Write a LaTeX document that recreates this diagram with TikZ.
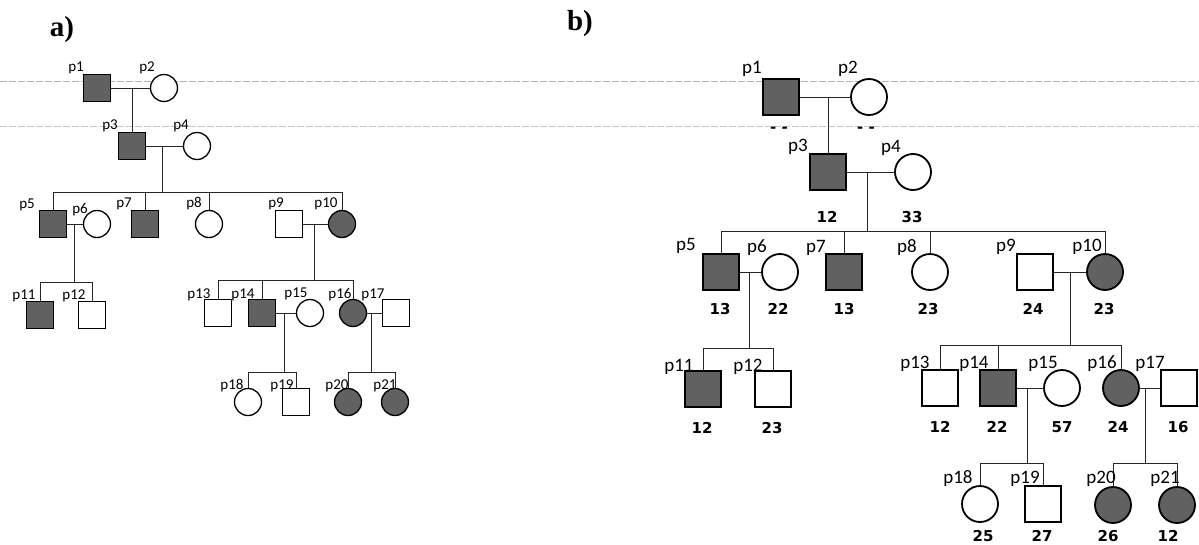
\documentclass[tikz,border=0pt]{standalone}
\usepackage{fontspec}
\newfontfamily\labfont{Carlito}
\newfontfamily\agefont{DejaVu Sans}
\newfontfamily\panelfont{Liberation Serif}
\begin{document}
\begin{tikzpicture}[x=1pt,y=-1pt,
  maleA/.style={rectangle,draw,line width=1.3pt,minimum size=27pt,inner sep=0pt,fill=white},
  femA/.style={circle,draw,line width=1.3pt,minimum size=27pt,inner sep=0pt,fill=white},
  maleB/.style={rectangle,draw,line width=1.8pt,minimum size=36pt,inner sep=0pt,fill=white},
  femB/.style={circle,draw,line width=1.8pt,minimum size=36pt,inner sep=0pt,fill=white},
  aff/.style={fill=black!62},
  labA/.style={font=\labfont\fontsize{15}{15}\selectfont,inner sep=0pt},
  labB/.style={font=\labfont\fontsize{19}{19}\selectfont,inner sep=0pt},
  age/.style={font=\agefont\bfseries\fontsize{15}{15}\selectfont,inner sep=0pt},
  panel/.style={font=\panelfont\bfseries\fontsize{29}{29}\selectfont,inner sep=0pt,anchor=base},
  link/.style={line width=0.8pt,black!85},
  scan/.style={black!30,line width=0.6pt,dash pattern=on 7pt off 2pt}
]
\useasboundingbox (0,0) rectangle (1199,544);
% faint scan lines
\coordinate (sl1) at (0,81); \coordinate (sr1) at (1199,81);
\coordinate (sl2) at (0,126); \coordinate (sr2) at (1199,126);
\draw[scan] (sl1) -- (sr1);
\draw[scan,black!22] (sl2) -- (sr2);

% panel titles
\node[panel] (ta) at (62,36) {a)};
\node[panel] (tb) at (580,30) {b)};

% ================= panel a =================
\node[maleA,aff] (a1) at (97,88) {};
\node[femA] (a2) at (164,88) {};
\node[maleA,aff] (a3) at (132,146) {};
\node[femA] (a4) at (197,146) {};
\node[maleA,aff] (a5) at (53,224) {};
\node[femA] (a6) at (97,224) {};
\node[maleA,aff] (a7) at (145,224) {};
\node[femA] (a8) at (209,224) {};
\node[maleA] (a9) at (289,224) {};
\node[femA,aff] (a10) at (342,224) {};
\node[maleA,aff] (a11) at (40,315) {};
\node[maleA] (a12) at (92,315) {};
\node[maleA] (a13) at (218,313) {};
\node[maleA,aff] (a14) at (262,313) {};
\node[femA] (a15) at (310,313) {};
\node[femA,aff] (a16) at (353,313) {};
\node[maleA] (a17) at (396,313) {};
\node[femA] (a18) at (248,402) {};
\node[maleA] (a19) at (296,402) {};
\node[femA,aff] (a20) at (348,402) {};
\node[femA,aff] (a21) at (395,402) {};

\coordinate (ca12) at (132,88);
\coordinate (ca34) at (162,146);
\coordinate (sa34) at (162,192);
\coordinate (ca56) at (74,224);
\coordinate (sa56) at (74,282);
\coordinate (ca910) at (314,224);
\coordinate (sa910) at (314,280);
\coordinate (ca1415) at (284,313);
\coordinate (sa1415) at (284,372);
\coordinate (ca1617) at (371,313);
\coordinate (sa1617) at (371,372);

\draw[link] (a1) -- (a2);
\draw[link] (ca12) -- (a3);
\draw[link] (a3) -- (a4);
\draw[link] (ca34) -- (sa34);
\foreach \c in {a5,a7,a8,a10} \draw[link] (sa34) -| (\c);
\draw[link] (a5) -- (a6);
\draw[link] (ca56) -- (sa56);
\foreach \c in {a11,a12} \draw[link] (sa56) -| (\c);
\draw[link] (a9) -- (a10);
\draw[link] (ca910) -- (sa910);
\foreach \c in {a13,a14,a16} \draw[link] (sa910) -| (\c);
\draw[link] (a14) -- (a15);
\draw[link] (ca1415) -- (sa1415);
\foreach \c in {a18,a19} \draw[link] (sa1415) -| (\c);
\draw[link] (a16) -- (a17);
\draw[link] (ca1617) -- (sa1617);
\foreach \c in {a20,a21} \draw[link] (sa1617) -| (\c);

\node[labA] (la1) at (76,68) {p1};
\node[labA] (la2) at (147,68) {p2};
\node[labA] (la3) at (110,126) {p3};
\node[labA] (la4) at (181,126) {p4};
\node[labA] (la5) at (27,205) {p5};
\node[labA] (la6) at (80,210) {p6};
\node[labA] (la7) at (124,204) {p7};
\node[labA] (la8) at (194,204) {p8};
\node[labA] (la9) at (276,204) {p9};
\node[labA] (la10) at (326,204) {p10};
\node[labA] (la11) at (24,296) {p11};
\node[labA] (la12) at (74,296) {p12};
\node[labA] (la13) at (199,295) {p13};
\node[labA] (la14) at (243,295) {p14};
\node[labA] (la15) at (296,294) {p15};
\node[labA] (la16) at (340,295) {p16};
\node[labA] (la17) at (373,295) {p17};
\node[labA] (la18) at (232,386) {p18};
\node[labA] (la19) at (282,386) {p19};
\node[labA] (la20) at (337,386) {p20};
\node[labA] (la21) at (385,386) {p21};

% ================= panel b =================
\node[maleB,aff] (b1) at (781,97) {};
\node[femB] (b2) at (869,97) {};
\node[maleB,aff] (b3) at (828,172) {};
\node[femB] (b4) at (913,172) {};
\node[maleB,aff] (b5) at (721,272) {};
\node[femB] (b6) at (780,272) {};
\node[maleB,aff] (b7) at (844,272) {};
\node[femB] (b8) at (930,272) {};
\node[maleB] (b9) at (1035,272) {};
\node[femB,aff] (b10) at (1105,272) {};
\node[maleB,aff] (b11) at (703,389) {};
\node[maleB] (b12) at (773,389) {};
\node[maleB] (b13) at (940,388) {};
\node[maleB,aff] (b14) at (998,388) {};
\node[femB] (b15) at (1062,388) {};
\node[femB,aff] (b16) at (1121,388) {};
\node[maleB] (b17) at (1179,388) {};
\node[femB] (b18) at (980,504) {};
\node[maleB] (b19) at (1043,504) {};
\node[femB,aff] (b20) at (1113,505) {};
\node[femB,aff] (b21) at (1177,505) {};

\coordinate (cb12) at (828,97);
\coordinate (cb34) at (867,172);
\coordinate (sb34) at (867,231);
\coordinate (cb56) at (749,272);
\coordinate (sb56) at (749,348);
\coordinate (cb910) at (1070,272);
\coordinate (sb910) at (1070,345);
\coordinate (cb1415) at (1027,388);
\coordinate (sb1415) at (1027,463);
\coordinate (cb1617) at (1145,388);
\coordinate (sb1617) at (1145,463);

\draw[link] (b1) -- (b2);
\draw[link] (cb12) -- (b3);
\draw[link] (b3) -- (b4);
\draw[link] (cb34) -- (sb34);
\foreach \c in {b5,b7,b8,b10} \draw[link] (sb34) -| (\c);
\draw[link] (b5) -- (b6);
\draw[link] (cb56) -- (sb56);
\foreach \c in {b11,b12} \draw[link] (sb56) -| (\c);
\draw[link] (b9) -- (b10);
\draw[link] (cb910) -- (sb910);
\foreach \c in {b13,b14,b16} \draw[link] (sb910) -| (\c);
\draw[link] (b14) -- (b15);
\draw[link] (cb1415) -- (sb1415);
\foreach \c in {b18,b19} \draw[link] (sb1415) -| (\c);
\draw[link] (b16) -- (b17);
\draw[link] (cb1617) -- (sb1617);
\foreach \c in {b20,b21} \draw[link] (sb1617) -| (\c);

\node[labB] (lb1) at (752,69) {p1};
\node[labB] (lb2) at (848,69) {p2};
\node[labB] (lb3) at (798,147) {p3};
\node[labB] (lb4) at (891,148) {p4};
\node[labB] (lb5) at (686,246) {p5};
\node[labB] (lb6) at (757,248) {p6};
\node[labB] (lb7) at (816,248) {p7};
\node[labB] (lb8) at (907,248) {p8};
\node[labB] (lb9) at (1006,247) {p9};
\node[labB] (lb10) at (1087,247) {p10};
\node[labB] (lb11) at (679,367) {p11};
\node[labB] (lb12) at (748,367) {p12};
\node[labB] (lb13) at (915,364) {p13};
\node[labB] (lb14) at (974,364) {p14};
\node[labB] (lb15) at (1043,364) {p15};
\node[labB] (lb16) at (1102,364) {p16};
\node[labB] (lb17) at (1150,364) {p17};
\node[labB] (lb18) at (958,479) {p18};
\node[labB] (lb19) at (1025,479) {p19};
\node[labB] (lb20) at (1101,479) {p20};
\node[labB] (lb21) at (1165,479) {p21};

% ages
\node[age] (g1) at (779,130) {- -};
\node[age] (g2) at (866,130) {- -};
\node[age] (g3) at (827,217) {12};
\node[age] (g4) at (912,217) {33};
\node[age] (g5) at (720,309) {13};
\node[age] (g6) at (778,309) {22};
\node[age] (g7) at (844,309) {13};
\node[age] (g8) at (928,309) {23};
\node[age] (g9) at (1033,309) {24};
\node[age] (g10) at (1104,309) {23};
\node[age] (g11) at (702,428) {12};
\node[age] (g12) at (772,428) {23};
\node[age] (g13) at (940,427) {12};
\node[age] (g14) at (997,427) {22};
\node[age] (g15) at (1062,427) {57};
\node[age] (g16) at (1118,427) {24};
\node[age] (g17) at (1178,427) {16};
\node[age] (g18) at (983,536) {25};
\node[age] (g19) at (1042,536) {27};
\node[age] (g20) at (1108,536) {26};
\node[age] (g21) at (1168,536) {12};
\end{tikzpicture}
\end{document}
